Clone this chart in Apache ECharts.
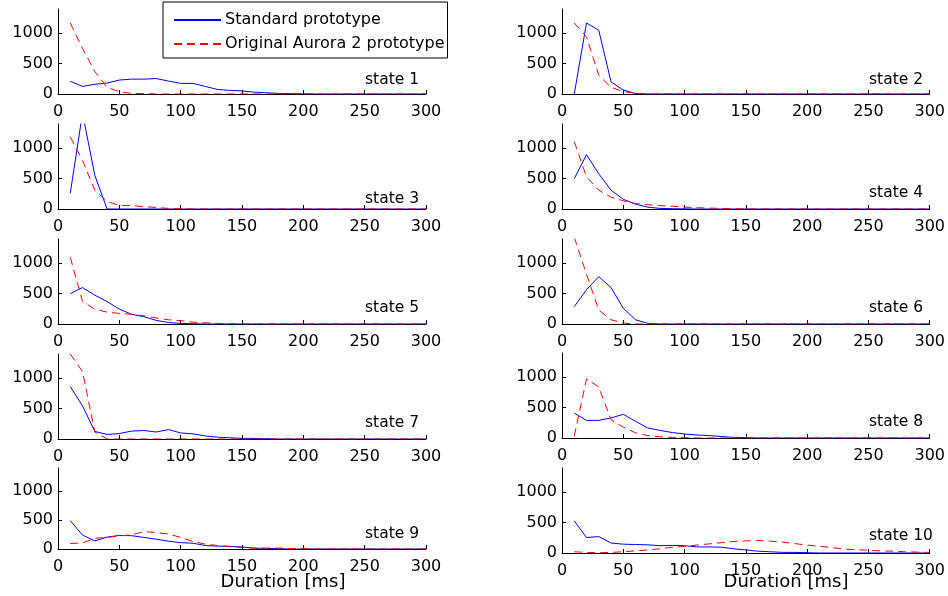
<!DOCTYPE html>
<html>
<head>
<meta charset="utf-8">
<script src="https://cdn.jsdelivr.net/npm/echarts@6/dist/echarts.min.js"></script>
<style>
html, body { margin: 0; padding: 0; background: #fff; }
#main { width: 948px; height: 596px; }
</style>
</head>
<body>
<div id="main"></div>
<script>
// durations in ms
var durations = [10, 20, 30, 40, 50, 60, 70, 80, 90, 100, 110, 120, 130, 140, 150,
	160, 170, 180, 190, 200, 210, 220, 230, 240, 250, 260, 270, 280, 290, 300];

var xTicks = [0, 50, 100, 150, 200, 250, 300];
var yTicks = [0, 500, 1000];

var stateNames = ['state 1', 'state 2', 'state 3', 'state 4', 'state 5',
	'state 6', 'state 7', 'state 8', 'state 9', 'state 10'];

// Standard prototype
var std1 = [210, 125, 160, 180, 230, 245, 245, 255, 213, 175, 175, 125, 75, 60, 50, 30, 20, 10, 5, 3, 0, 0, 0, 0, 0, 0, 0, 0, 0, 0];
var std2 = [0, 1170, 1050, 200, 65, 10, 0, 0, 0, 0, 0, 0, 0, 0, 0, 0, 0, 0, 0, 0, 0, 0, 0, 0, 0, 0, 0, 0, 0, 0];
var std3 = [260, 1580, 555, 0, 0, 0, 0, 0, 0, 0, 0, 0, 0, 0, 0, 0, 0, 0, 0, 0, 0, 0, 0, 0, 0, 0, 0, 0, 0, 0];
var std4 = [500, 895, 580, 310, 160, 80, 30, 10, 5, 2, 0, 0, 0, 0, 0, 0, 0, 0, 0, 0, 0, 0, 0, 0, 0, 0, 0, 0, 0, 0];
var std5 = [500, 600, 475, 370, 245, 160, 120, 60, 25, 10, 5, 0, 0, 0, 0, 0, 0, 0, 0, 0, 0, 0, 0, 0, 0, 0, 0, 0, 0, 0];
var std6 = [285, 565, 780, 600, 260, 70, 10, 0, 0, 0, 0, 0, 0, 0, 0, 0, 0, 0, 0, 0, 0, 0, 0, 0, 0, 0, 0, 0, 0, 0];
var std7 = [865, 545, 125, 75, 90, 130, 140, 115, 155, 100, 85, 50, 30, 20, 10, 10, 5, 0, 0, 0, 0, 0, 0, 0, 0, 0, 0, 0, 0, 0];
var std8 = [410, 290, 290, 330, 390, 275, 165, 125, 90, 65, 50, 40, 25, 10, 5, 0, 0, 0, 0, 0, 0, 0, 0, 0, 0, 0, 0, 0, 0, 0];
var std9 = [490, 240, 140, 205, 235, 230, 200, 170, 135, 110, 100, 60, 50, 45, 35, 15, 10, 5, 0, 0, 0, 0, 0, 0, 0, 0, 0, 0, 0, 0];
var std10 = [530, 255, 270, 165, 145, 140, 135, 120, 125, 120, 100, 100, 95, 70, 50, 30, 20, 10, 10, 5, 0, 0, 0, 0, 0, 0, 0, 0, 0, 0];

// Original Aurora 2 prototype
var orig1 = [1170, 750, 370, 110, 38, 10, 5, 0, 0, 0, 0, 0, 0, 0, 0, 0, 0, 0, 0, 0, 0, 0, 0, 0, 0, 0, 0, 0, 0, 0];
var orig2 = [1170, 940, 310, 110, 40, 10, 0, 0, 0, 0, 0, 0, 0, 0, 0, 0, 0, 0, 0, 0, 0, 0, 0, 0, 0, 0, 0, 0, 0, 0];
var orig3 = [1190, 800, 310, 125, 60, 55, 40, 25, 10, 5, 0, 0, 0, 0, 0, 0, 0, 0, 0, 0, 0, 0, 0, 0, 0, 0, 0, 0, 0, 0];
var orig4 = [1110, 530, 310, 195, 135, 90, 70, 55, 45, 30, 22, 15, 10, 5, 2, 0, 0, 0, 0, 0, 0, 0, 0, 0, 0, 0, 0, 0, 0, 0];
var orig5 = [1100, 370, 245, 195, 175, 160, 135, 100, 70, 55, 30, 20, 10, 5, 0, 0, 0, 0, 0, 0, 0, 0, 0, 0, 0, 0, 0, 0, 0, 0];
var orig6 = [1430, 820, 230, 70, 15, 0, 0, 0, 0, 0, 0, 0, 0, 0, 0, 0, 0, 0, 0, 0, 0, 0, 0, 0, 0, 0, 0, 0, 0, 0];
var orig7 = [1400, 1110, 115, 0, 0, 0, 0, 0, 0, 0, 0, 0, 0, 0, 0, 0, 0, 0, 0, 0, 0, 0, 0, 0, 0, 0, 0, 0, 0, 0];
var orig8 = [30, 975, 840, 300, 180, 85, 40, 20, 10, 5, 0, 0, 0, 0, 0, 0, 0, 0, 0, 0, 0, 0, 0, 0, 0, 0, 0, 0, 0, 0];
var orig9 = [95, 105, 185, 200, 225, 245, 300, 285, 260, 200, 130, 85, 60, 45, 25, 15, 15, 15, 10, 5, 0, 0, 0, 0, 0, 0, 0, 0, 0, 0];
var orig10 = [20, 10, 5, 10, 20, 35, 50, 70, 95, 110, 130, 150, 170, 190, 200, 205, 195, 180, 155, 130, 110, 90, 65, 55, 45, 35, 30, 20, 15, 10];

var stdAll = [std1, std2, std3, std4, std5, std6, std7, std8, std9, std10];
var origAll = [orig1, orig2, orig3, orig4, orig5, orig6, orig7, orig8, orig9, orig10];

var FONT = 'DejaVu Sans';

// panel boxes [left, top, width, height]
var panels = [
	[58, 9, 368, 85], [562, 9, 368, 85],
	[58, 124, 368, 85], [562, 124, 368, 85],
	[58, 239, 368, 85], [562, 239, 368, 85],
	[58, 354, 368, 85], [562, 353, 368, 85],
	[58, 468, 368, 81], [562, 468, 368, 85]
];
// how far above the zero line the state text sits
var labelRise = [14, 14.5, 10.5, 16.5, 16, 16.5, 16, 16, 15, 17];

function pairs(ys) {
	return durations.map(function (d, i) { return [d, ys[i]]; });
}

var grids = [], xAxes = [], yAxes = [], series = [], graphics = [];
for (var i = 0; i < 10; i++) {
	var p = panels[i];
	grids.push({ left: p[0], top: p[1], width: p[2], height: p[3] });
	xAxes.push({
		type: 'value', gridIndex: i, min: 0, max: 300, interval: 50,
		axisLine: { show: true, lineStyle: { color: '#000', width: 1 } },
		axisTick: { show: true, inside: true, length: 4, lineStyle: { color: '#000' } },
		axisLabel: {
			color: '#000', fontFamily: FONT, fontSize: 16, margin: 10,
			formatter: function (v) { return xTicks.indexOf(v) >= 0 ? String(v) : ''; }
		},
		splitLine: { show: false }
	});
	yAxes.push({
		type: 'value', gridIndex: i, min: 0, max: 1400, interval: 500,
		axisLine: { show: true, lineStyle: { color: '#000', width: 1 } },
		axisTick: { show: true, inside: true, length: 4, lineStyle: { color: '#000' } },
		axisLabel: {
			color: '#000', fontFamily: FONT, fontSize: 16, margin: 5, showMaxLabel: false,
			formatter: function (v) { return yTicks.indexOf(v) >= 0 ? String(v) : ''; }
		},
		splitLine: { show: false }
	});
	series.push({
		name: 'Standard prototype', type: 'line', xAxisIndex: i, yAxisIndex: i,
		data: pairs(stdAll[i]), symbol: 'none', clip: true,
		lineStyle: { color: '#0000ff', width: 1 }, itemStyle: { color: '#0000ff' }
	});
	series.push({
		name: 'Original Aurora 2 prototype', type: 'line', xAxisIndex: i, yAxisIndex: i,
		data: pairs(origAll[i]), symbol: 'none', clip: true,
		lineStyle: { color: '#ff0000', width: 1, type: [8, 5] }, itemStyle: { color: '#ff0000' }
	});
	graphics.push({
		type: 'text', x: p[0] + 307, y: p[1] + p[3] - labelRise[i], z: 50,
		style: {
			text: stateNames[i], fill: '#000', font: '15.5px "DejaVu Sans"',
			textAlign: 'left', textVerticalAlign: 'middle'
		}
	});
}

graphics.push({
	type: 'text', x: 283, y: 582, z: 50,
	style: { text: 'Duration [ms]', fill: '#000', font: '18px "DejaVu Sans"', textAlign: 'center', textVerticalAlign: 'middle' }
});
graphics.push({
	type: 'text', x: 786, y: 582, z: 50,
	style: { text: 'Duration [ms]', fill: '#000', font: '18px "DejaVu Sans"', textAlign: 'center', textVerticalAlign: 'middle' }
});

var myChart = echarts.init(document.getElementById('main'));
var option = {
	backgroundColor: '#fff',
	animation: false,
	legend: {
		orient: 'vertical',
		left: 163, top: 2,
		padding: [10, 3, 6, 10],
		itemWidth: 47, itemHeight: 16, itemGap: 8,
		backgroundColor: '#fff',
		borderColor: '#000', borderWidth: 1,
		itemStyle: { opacity: 0 },
		textStyle: { color: '#000', fontFamily: FONT, fontSize: 16, padding: [0, 0, 0, -1] },
		data: ['Standard prototype', 'Original Aurora 2 prototype'],
		z: 20
	},
	grid: grids,
	xAxis: xAxes,
	yAxis: yAxes,
	series: series,
	graphic: graphics
};
myChart.setOption(option, true);
</script>
</body>
</html>
